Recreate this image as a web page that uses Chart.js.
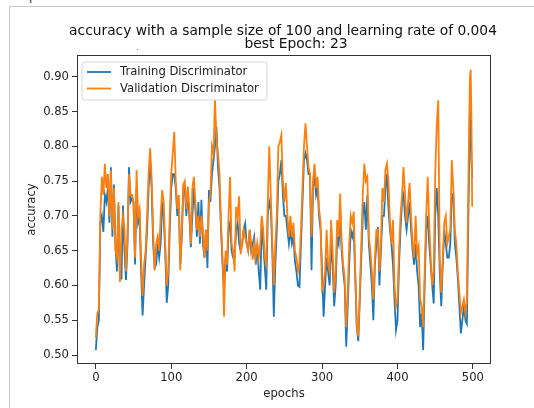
<!DOCTYPE html>
<html><head><meta charset="utf-8">
<script src="https://cdn.jsdelivr.net/npm/chart.js@4.4.1/dist/chart.umd.min.js"></script>
<style>
html,body{margin:0;padding:0;background:#fff;width:534px;height:408px;overflow:hidden;position:relative;font-family:"DejaVu Sans",sans-serif}
#frame{position:absolute;left:9px;top:6px;width:540px;height:420px;border-left:1px solid #c8c8c8;border-top:1px solid #c8c8c8;}
canvas{position:absolute;left:0;top:0}
#cut{position:absolute;left:29px;top:-10px;font-size:12px;color:#333;line-height:12px}
</style></head><body>
<div id="cut">p</div>
<div id="frame"></div>
<canvas id="c" width="534" height="408"></canvas>
<script>
const epochs = [
0,2,4,6,8,10,12,14,16,18,20,22,24,26,28,30,32,34,36,38,40,42,44,46,48,50,52,54,56,58,60,62,64,66,68,70,72,74,76,78,80,82,84,86,88,90,92,94,96,98,
100,102,104,106,108,110,112,114,116,118,120,122,124,126,128,130,132,134,136,138,140,142,144,146,148,150,152,154,156,158,160,162,164,166,168,170,172,174,176,178,180,182,184,186,188,190,192,194,196,198,
200,202,204,206,208,210,212,214,216,218,220,222,224,226,228,230,232,234,236,238,240,242,244,246,248,250,252,254,256,258,260,262,264,266,268,270,272,274,276,278,280,282,284,286,288,290,292,294,296,298,
300,302,304,306,308,310,312,314,316,318,320,322,324,326,328,330,332,334,336,338,340,342,344,346,348,350,352,354,356,358,360,362,364,366,368,370,372,374,376,378,380,382,384,386,388,390,392,394,396,398,
400,402,404,406,408,410,412,414,416,418,420,422,424,426,428,430,432,434,436,438,440,442,444,446,448,450,452,454,456,458,460,462,464,466,468,470,472,474,476,478,480,482,484,486,488,490,492,494,496,497,498,499];

const training = [
0.507,0.54,0.55,0.69,0.70,0.677,0.73,0.72,0.74,0.69,
0.77,0.67,0.745,0.66,0.62,0.715,0.61,0.61,0.715,0.65,
0.608,0.66,0.77,0.72,0.725,0.72,0.63,0.74,0.69,0.70,
0.62,0.557,0.60,0.64,0.68,0.74,0.78,0.74,0.66,0.625,
0.63,0.66,0.64,0.66,0.72,0.70,0.65,0.575,0.60,0.68,
0.74,0.76,0.76,0.74,0.70,0.72,0.63,0.67,0.74,0.74,
0.70,0.735,0.70,0.655,0.70,0.74,0.71,0.67,0.72,0.66,
0.723,0.66,0.64,0.68,0.625,0.737,0.72,0.76,0.78,0.80,
0.828,0.77,0.74,0.68,0.63,0.60,0.64,0.62,0.68,0.69,
0.65,0.64,0.64,0.68,0.69,0.66,0.65,0.66,0.68,0.689,
0.66,0.65,0.68,0.65,0.66,0.67,0.63,0.66,0.62,0.594,
0.69,0.66,0.627,0.594,0.70,0.72,0.71,0.65,0.555,0.63,
0.68,0.75,0.76,0.78,0.73,0.70,0.70,0.68,0.66,0.68,
0.66,0.67,0.635,0.62,0.60,0.598,0.66,0.72,0.78,0.79,
0.78,0.76,0.76,0.622,0.74,0.76,0.73,0.74,0.70,0.68,
0.62,0.555,0.60,0.64,0.62,0.60,0.66,0.63,0.57,0.60,
0.67,0.66,0.70,0.65,0.62,0.60,0.512,0.57,0.63,0.68,
0.67,0.68,0.61,0.54,0.52,0.58,0.64,0.70,0.72,0.68,
0.73,0.66,0.63,0.60,0.55,0.63,0.66,0.684,0.60,0.65,
0.70,0.70,0.74,0.76,0.71,0.68,0.66,0.63,0.58,0.536,
0.55,0.63,0.68,0.72,0.73,0.70,0.68,0.70,0.72,0.68,
0.65,0.63,0.66,0.62,0.60,0.54,0.56,0.507,0.60,0.68,
0.70,0.66,0.63,0.60,0.574,0.70,0.74,0.70,0.62,0.57,
0.63,0.68,0.66,0.64,0.64,0.66,0.73,0.732,0.66,0.64,
0.61,0.57,0.531,0.55,0.57,0.55,0.545,0.70,0.857,0.83,0.78,0.755];

const validation = [
0.525,0.56,0.565,0.70,0.756,0.73,0.775,0.74,0.76,0.70,
0.765,0.68,0.74,0.65,0.64,0.72,0.605,0.68,0.70,0.68,
0.62,0.67,0.76,0.73,0.73,0.72,0.64,0.766,0.70,0.71,
0.64,0.585,0.63,0.65,0.70,0.76,0.797,0.755,0.68,0.622,
0.66,0.67,0.65,0.70,0.737,0.72,0.66,0.60,0.62,0.70,
0.76,0.79,0.821,0.75,0.71,0.73,0.622,0.68,0.745,0.75,
0.71,0.742,0.71,0.66,0.74,0.756,0.72,0.68,0.70,0.67,
0.70,0.68,0.64,0.68,0.65,0.72,0.73,0.80,0.79,0.867,
0.81,0.79,0.76,0.69,0.64,0.555,0.65,0.63,0.70,0.756,
0.66,0.65,0.62,0.713,0.70,0.728,0.645,0.66,0.68,0.67,
0.66,0.65,0.68,0.66,0.637,0.66,0.64,0.66,0.64,0.66,
0.70,0.68,0.64,0.63,0.72,0.80,0.73,0.66,0.60,0.66,
0.70,0.80,0.806,0.816,0.75,0.72,0.747,0.70,0.67,0.70,
0.67,0.69,0.65,0.64,0.62,0.632,0.68,0.74,0.80,0.833,
0.80,0.77,0.76,0.67,0.75,0.775,0.74,0.756,0.71,0.69,
0.594,0.60,0.62,0.68,0.63,0.62,0.694,0.65,0.59,0.62,
0.694,0.67,0.732,0.66,0.63,0.61,0.54,0.59,0.66,0.70,
0.69,0.706,0.62,0.54,0.527,0.59,0.66,0.732,0.775,0.75,
0.756,0.67,0.65,0.62,0.58,0.64,0.68,0.68,0.62,0.66,
0.74,0.72,0.766,0.775,0.75,0.69,0.66,0.694,0.60,0.57,
0.58,0.65,0.70,0.73,0.77,0.73,0.69,0.72,0.747,0.70,
0.66,0.64,0.70,0.646,0.656,0.58,0.57,0.54,0.62,0.70,
0.756,0.69,0.64,0.60,0.62,0.761,0.83,0.866,0.64,0.59,
0.64,0.69,0.70,0.66,0.67,0.68,0.78,0.74,0.68,0.66,
0.62,0.59,0.56,0.57,0.58,0.56,0.58,0.75,0.90,0.91,0.84,0.713];

const xTickValues = [0, 100, 200, 300, 400, 500];
const yTickValues = [0.50, 0.55, 0.60, 0.65, 0.70, 0.75, 0.80, 0.85, 0.90];
const titleLines = ['accuracy with a sample size of 100 and learning rate of 0.004', 'best Epoch: 23'];
const seriesNames = ['Training Discriminator', 'Validation Discriminator'];
const xAxisTitle = 'epochs';
const yAxisTitle = 'accuracy';

const BLUE = '#1f77b4', ORANGE = '#ff7f0e';
const FONT = '"DejaVu Sans", sans-serif';
Chart.defaults.font.family = FONT;

const toPts = arr => epochs.map((e, i) => ({x: e, y: arr[i]}));

const decor = {
  id: 'decor',
  afterDraw(chart) {
    const ctx = chart.ctx, a = chart.chartArea;
    ctx.save();
    // axes box
    ctx.strokeStyle = '#333'; ctx.lineWidth = 1;
    ctx.strokeRect(Math.round(a.left) + 0.5, Math.round(a.top) + 0.5, Math.round(a.right - a.left) - 1, Math.round(a.bottom - a.top) - 1);
    // title
    const cx = (a.left + a.right) / 2;
    ctx.fillStyle = '#111'; ctx.textAlign = 'center'; ctx.textBaseline = 'middle';
    ctx.font = '13.8px ' + FONT;
    ctx.fillText(titleLines[0], cx - 1, 31);
    ctx.fillText(titleLines[1], cx + 12, 44);
    // axis titles
    ctx.font = '11.6px ' + FONT; ctx.fillStyle = '#222';
    ctx.fillText(xAxisTitle, cx, 394);
    ctx.save();
    ctx.translate(32, (a.top + a.bottom) / 2);
    ctx.rotate(-Math.PI / 2);
    ctx.fillText(yAxisTitle, 0, 0);
    ctx.restore();
    // stray dot
    ctx.fillStyle = '#777';
    ctx.fillRect(137, 49, 1, 1);
    // legend
    const lx = 82, ly = 62, lw = 185, lh = 38, r = 3;
    ctx.beginPath();
    ctx.moveTo(lx + r, ly); ctx.lineTo(lx + lw - r, ly); ctx.quadraticCurveTo(lx + lw, ly, lx + lw, ly + r);
    ctx.lineTo(lx + lw, ly + lh - r); ctx.quadraticCurveTo(lx + lw, ly + lh, lx + lw - r, ly + lh);
    ctx.lineTo(lx + r, ly + lh); ctx.quadraticCurveTo(lx, ly + lh, lx, ly + lh - r);
    ctx.lineTo(lx, ly + r); ctx.quadraticCurveTo(lx, ly, lx + r, ly); ctx.closePath();
    ctx.fillStyle = 'rgba(255,255,255,0.8)'; ctx.fill();
    ctx.strokeStyle = '#d6d6d6'; ctx.lineWidth = 1; ctx.stroke();
    const ds = chart.data.datasets;
    [0, 1].forEach(i => {
      const y = 72 + i * 16.5;
      ctx.strokeStyle = ds[i].borderColor; ctx.lineWidth = 1.8;
      ctx.beginPath(); ctx.moveTo(87, y); ctx.lineTo(111, y); ctx.stroke();
      ctx.fillStyle = '#222'; ctx.textAlign = 'left'; ctx.textBaseline = 'middle';
      ctx.font = '11.6px ' + FONT;
      ctx.fillText(ds[i].label, 120, y);
    });
    ctx.restore();
  }
};

new Chart(document.getElementById('c'), {
  type: 'line',
  data: {
    datasets: [
      {label: seriesNames[0], data: toPts(training), borderColor: BLUE, backgroundColor: BLUE, borderWidth: 1.8, pointRadius: 0, tension: 0, order: 1},
      {label: seriesNames[1], data: toPts(validation), borderColor: ORANGE, backgroundColor: ORANGE, borderWidth: 1.8, pointRadius: 0, tension: 0, order: 0}
    ]
  },
  options: {
    responsive: false, animation: false, events: [],
    layout: {padding: {left: 10, right: 43, top: 55, bottom: 10}},
    plugins: {legend: {display: false}, tooltip: {enabled: false}, title: {display: false}},
    scales: {
      x: {
        type: 'linear', min: -24.95, max: 523.95,
        afterBuildTicks: s => { s.ticks = xTickValues.map(v => ({value: v})); },
        afterFit: s => { s.height = 34; },
        ticks: {color: '#222', font: {size: 11.6}, padding: 2, maxRotation: 0, callback: v => String(v)},
        grid: {drawOnChartArea: false, drawTicks: true, tickLength: 5, color: '#333'},
        border: {display: false}
      },
      y: {
        type: 'linear', min: 0.4871, max: 0.9312,
        afterBuildTicks: s => { s.ticks = yTickValues.map(v => ({value: v})); },
        afterFit: s => { s.width = 67; },
        ticks: {color: '#222', font: {size: 11.6}, padding: 3, callback: v => Number(v).toFixed(2)},
        grid: {drawOnChartArea: false, drawTicks: true, tickLength: 5, color: '#333'},
        border: {display: false}
      }
    }
  },
  plugins: [decor]
});
</script>
</body></html>
